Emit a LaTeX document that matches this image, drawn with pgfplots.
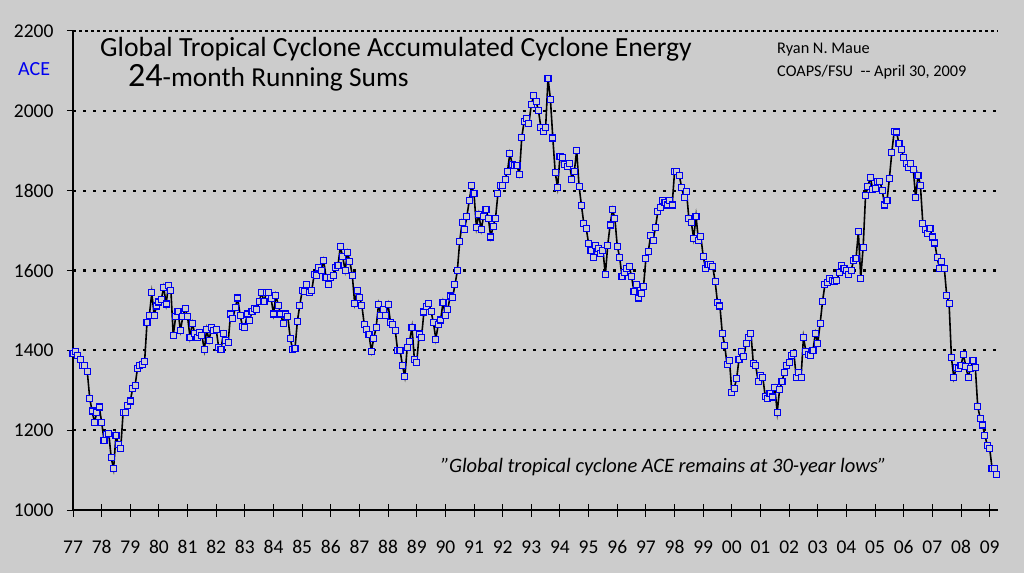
\documentclass[border=0pt]{standalone}
\usepackage{fontspec}
\setmainfont{Carlito}
\usepackage{pgfplots}
\usepackage{pgfplotstable}
\pgfplotsset{compat=1.18}
\definecolor{bgc}{RGB}{204,204,204}
\definecolor{mk}{RGB}{0,0,240}
\pgfplotstableread[row sep=\\]{m ace\\
0 1392\\1 1398\\2 1386\\3 1378\\4 1362\\5 1361\\6 1346\\7 1280\\8 1248\\9 1220\\10 1245\\11 1258\\
12 1220\\13 1175\\14 1190\\15 1191\\16 1131\\17 1103\\18 1187\\19 1164\\20 1155\\21 1245\\22 1244\\23 1262\\
24 1273\\25 1305\\26 1311\\27 1355\\28 1363\\29 1364\\30 1372\\31 1469\\32 1488\\33 1544\\34 1488\\35 1511\\
36 1521\\37 1528\\38 1558\\39 1516\\40 1562\\41 1551\\42 1437\\43 1484\\44 1497\\45 1450\\46 1484\\47 1505\\
48 1484\\49 1433\\50 1468\\51 1442\\52 1433\\53 1444\\54 1438\\55 1401\\56 1453\\57 1424\\58 1457\\59 1449\\
60 1452\\61 1408\\62 1402\\63 1443\\64 1424\\65 1420\\66 1491\\67 1480\\68 1508\\69 1531\\70 1488\\71 1460\\
72 1458\\73 1491\\74 1475\\75 1498\\76 1505\\77 1503\\78 1523\\79 1544\\80 1523\\81 1544\\82 1544\\83 1529\\
84 1491\\85 1538\\86 1513\\87 1491\\88 1468\\89 1491\\90 1484\\91 1430\\92 1403\\93 1405\\94 1473\\95 1513\\
96 1549\\97 1547\\98 1564\\99 1544\\100 1549\\101 1589\\102 1587\\103 1607\\104 1600\\105 1625\\106 1583\\107 1564\\
108 1583\\109 1588\\110 1607\\111 1613\\112 1659\\113 1634\\114 1600\\115 1645\\116 1622\\117 1588\\118 1518\\119 1549\\
120 1532\\121 1513\\122 1465\\123 1453\\124 1440\\125 1398\\126 1430\\127 1458\\128 1515\\129 1488\\130 1502\\131 1488\\
132 1515\\133 1470\\134 1465\\135 1450\\136 1399\\137 1400\\138 1363\\139 1334\\140 1406\\141 1423\\142 1458\\143 1378\\
144 1370\\145 1441\\146 1433\\147 1496\\148 1509\\149 1518\\150 1498\\151 1469\\152 1428\\153 1465\\154 1476\\155 1520\\
156 1488\\157 1502\\158 1536\\159 1532\\160 1564\\161 1599\\162 1673\\163 1721\\164 1702\\165 1736\\166 1775\\167 1813\\
168 1792\\169 1708\\170 1741\\171 1702\\172 1736\\173 1753\\174 1731\\175 1684\\176 1711\\177 1731\\178 1792\\179 1813\\
180 1813\\181 1829\\182 1848\\183 1893\\184 1866\\185 1864\\186 1862\\187 1841\\188 1934\\189 1974\\190 1980\\191 1969\\
192 2016\\193 2038\\194 2024\\195 2000\\196 1959\\197 1949\\198 1959\\199 2082\\200 2029\\201 1932\\202 1846\\203 1808\\
204 1886\\205 1882\\206 1866\\207 1860\\208 1868\\209 1829\\210 1848\\211 1901\\212 1811\\213 1763\\214 1717\\215 1706\\
216 1667\\217 1650\\218 1633\\219 1662\\220 1654\\221 1643\\222 1651\\223 1589\\224 1663\\225 1714\\226 1753\\227 1730\\
228 1661\\229 1633\\230 1584\\231 1595\\232 1606\\233 1610\\234 1585\\235 1547\\236 1565\\237 1531\\238 1543\\239 1560\\
240 1630\\241 1648\\242 1688\\243 1676\\244 1708\\245 1747\\246 1758\\247 1775\\248 1771\\249 1764\\250 1775\\251 1764\\
252 1848\\253 1848\\254 1838\\255 1807\\256 1783\\257 1798\\258 1730\\259 1721\\260 1681\\261 1736\\262 1676\\263 1686\\
264 1635\\265 1606\\266 1615\\267 1615\\268 1609\\269 1573\\270 1519\\271 1511\\272 1442\\273 1413\\274 1364\\275 1375\\
276 1295\\277 1305\\278 1329\\279 1378\\280 1398\\281 1385\\282 1418\\283 1433\\284 1443\\285 1366\\286 1362\\287 1323\\
288 1338\\289 1331\\290 1284\\291 1280\\292 1291\\293 1283\\294 1306\\295 1245\\296 1302\\297 1321\\298 1345\\299 1362\\
300 1369\\301 1388\\302 1392\\303 1331\\304 1345\\305 1333\\306 1433\\307 1398\\308 1389\\309 1386\\310 1400\\311 1443\\
312 1418\\313 1468\\314 1523\\315 1565\\316 1569\\317 1580\\318 1576\\319 1573\\320 1575\\321 1594\\322 1613\\323 1605\\
324 1600\\325 1591\\326 1600\\327 1626\\328 1629\\329 1697\\330 1581\\331 1658\\332 1787\\333 1811\\334 1833\\335 1804\\
336 1805\\337 1824\\338 1824\\339 1801\\340 1764\\341 1775\\342 1831\\343 1895\\344 1949\\345 1947\\346 1918\\347 1904\\
348 1882\\349 1869\\350 1859\\351 1869\\352 1854\\353 1782\\354 1839\\355 1813\\356 1718\\357 1703\\358 1693\\359 1706\\
360 1684\\361 1669\\362 1633\\363 1605\\364 1622\\365 1606\\366 1538\\367 1518\\368 1381\\369 1331\\370 1358\\371 1355\\
372 1363\\373 1389\\374 1360\\375 1333\\376 1355\\377 1374\\378 1357\\379 1260\\380 1230\\381 1213\\382 1187\\383 1162\\
384 1155\\385 1105\\386 1103\\387 1090\\
}\acedata
\begin{document}
\begin{tikzpicture}
\fill[bgc] (0,0) rectangle (1024pt,573pt);
\begin{axis}[
  at={(73pt,63pt)}, anchor=south west,
  scale only axis, width=925pt, height=479pt,
  xmin=0, xmax=387.5, ymin=1000, ymax=2200,
  axis x line*=bottom, axis y line*=left,
  axis line style={black, line width=1.2pt, -},
  tick align=outside,
  major tick length=6pt,
  tick style={black, line width=1pt},
  xtick style={/pgfplots/major tick length=13pt, yshift=6.5pt},
  xtick={0,12,...,384},
  xticklabels={77,78,79,80,81,82,83,84,85,86,87,88,89,90,91,92,93,94,95,96,97,98,99,00,01,02,03,04,05,06,07,08,09},
  ytick={1000,1200,...,2000},
  extra y ticks={2200},
  extra y tick style={grid style={black, line width=1.6pt, dash pattern=on 2.5pt off 3.5pt}},
  /pgf/number format/assume math mode=true,
  /pgf/number format/1000 sep={},
  ticklabel style={font=\fontsize{19.5}{19.5}\selectfont, black},
  xticklabel style={yshift=-21pt},
  yticklabel style={xshift=-10pt},
  ymajorgrids,
  grid style={black, line width=2.2pt, dash pattern=on 3pt off 7pt},
  clip=false,
]
\addplot[black, line width=1.6pt, mark=square*, mark size=3pt,
  mark options={draw=mk, fill=bgc, line width=1.1pt, solid}]
  table[x=m, y=ace] {\acedata};
\end{axis}
\node[anchor=base west, inner sep=0pt, font=\fontsize{27.7}{27.7}\selectfont] at (100pt,516pt) {Global Tropical Cyclone Accumulated Cyclone Energy};
\node[anchor=base west, inner sep=0pt] at (128pt,486.5pt) {{\fontsize{34}{34}\selectfont 24}{\fontsize{27.4}{27.4}\selectfont -month Running Sums}};
\node[anchor=base west, inner sep=0pt, font=\fontsize{20}{20}\selectfont, text=mk] at (18pt,497pt) {ACE};
\node[anchor=base west, inner sep=0pt, font=\fontsize{16.3}{16.3}\selectfont] at (777pt,519pt) {Ryan N. Maue};
\node[anchor=base west, inner sep=0pt, font=\fontsize{16.3}{16.3}\selectfont] at (777pt,496pt) {COAPS/FSU\ \ {-}{-} April 30, 2009};
\node[anchor=base west, inner sep=0pt, font=\fontsize{20.5}{20.5}\selectfont\itshape] at (441pt,101pt) {\char34 Global tropical cyclone ACE remains at 30-year lows\char34};
\pgfresetboundingbox
\path[use as bounding box] (0,0) rectangle (1024pt,573pt);
\end{tikzpicture}
\end{document}
